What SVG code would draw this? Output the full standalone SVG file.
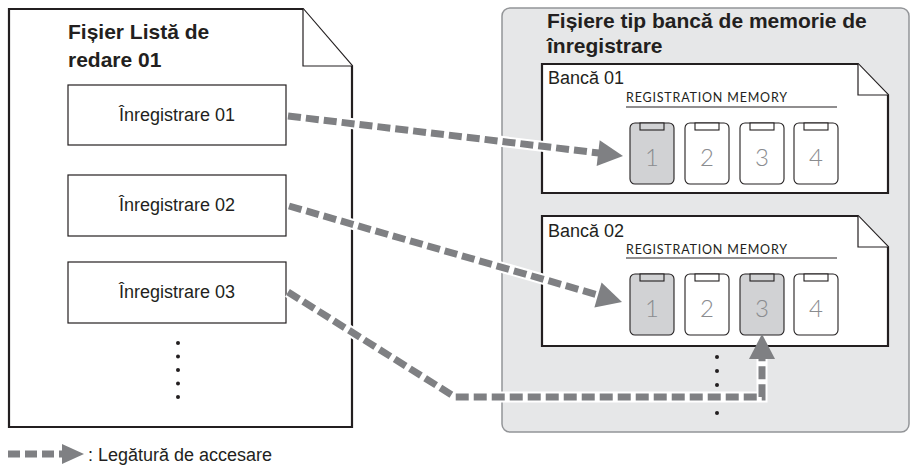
<svg xmlns="http://www.w3.org/2000/svg" xmlns:xlink="http://www.w3.org/1999/xlink" width="912" height="468" viewBox="0 0 912 468">
<style>
.t{font-family:"Liberation Sans",Arial,sans-serif;fill:#231f20}
.b{font-weight:bold;font-size:21px}
.r{font-size:18px}
.doc{fill:#fff;stroke:#231f20;stroke-width:2.2;stroke-linejoin:miter}
.fold{fill:#fff;stroke:#231f20;stroke-width:1.2}
.rec{fill:#fff;stroke:#231f20;stroke-width:1.2}
.rm{font-family:Lato,"Open Sans",sans-serif;font-weight:400;font-size:12.5px;fill:#231f20}
.btn{stroke:#231f20;stroke-width:1.1}
.on{fill:#d1d2d4}
.off{fill:#fff}
.num{font-family:Lato,Roboto,sans-serif;font-weight:300;font-size:24px;fill:#8a8c8f;text-anchor:middle}
.halo{fill:none;stroke:#fff;stroke-width:11}
.dash{fill:none;stroke:#7f8083;stroke-width:7;stroke-dasharray:13 5}
.ah{fill:#7f8083}
.dot{fill:#231f20}
</style>
<defs>
<polygon id="head" points="0,0 -25,-13 -25,13"/>
<g id="btn">
<rect class="btn" x="0" y="0" width="44" height="61" rx="5"/>
<rect x="10" y="0" width="24" height="7" stroke="#231f20" stroke-width="1.1"/>
</g>
</defs>

<g id="playlist">
<path class="doc" d="M9,9 H303 L352,66 V427 H9 Z"/>
<path class="fold" d="M303,9 V66 H352"/>
<text class="t b" x="68" y="39">Fișier Listă de</text>
<text class="t b" x="68" y="67">redare 01</text>
<g class="dot">
<circle cx="178" cy="343" r="2"/><circle cx="178" cy="356.5" r="2"/><circle cx="178" cy="370" r="2"/><circle cx="178" cy="383.5" r="2"/><circle cx="178" cy="397" r="2"/>
</g>
</g>

<g id="rec1">
<rect class="rec" x="68" y="85" width="218" height="60"/>
<text class="t r" x="177" y="121" text-anchor="middle">Înregistrare 01</text>
</g>
<g id="rec2">
<rect class="rec" x="68" y="175" width="218" height="61"/>
<text class="t r" x="177" y="211" text-anchor="middle">Înregistrare 02</text>
</g>
<g id="rec3">
<rect class="rec" x="68" y="262" width="218" height="61"/>
<text class="t r" x="177" y="298" text-anchor="middle">Înregistrare 03</text>
</g>

<g id="bankfiles">
<rect x="502" y="8" width="407" height="424" rx="8" fill="#e6e7e8" stroke="#939598" stroke-width="1.5"/>
<text class="t b" x="547" y="28">Fișiere tip bancă de memorie de</text>
<text class="t b" x="547" y="53">înregistrare</text>
<g class="dot">
<circle cx="717" cy="357" r="2"/><circle cx="717" cy="371" r="2"/><circle cx="717" cy="385" r="2"/><circle cx="717" cy="399" r="2"/><circle cx="717" cy="413" r="2"/>
</g>
</g>

<g id="bank1">
<path class="doc" d="M542,64 H858 L888,95 V193 H542 Z"/>
<path class="fold" d="M858,64 V95 H888"/>
<text class="t r" x="548" y="84">Bancă 01</text>
<text class="rm" x="626" y="102" textLength="161" lengthAdjust="spacing">REGISTRATION MEMORY</text>
<line x1="626" y1="107" x2="837" y2="107" stroke="#231f20" stroke-width="1.2"/>
<use xlink:href="#btn" x="630" y="123" class="on"/>
<use xlink:href="#btn" x="685" y="123" class="off"/>
<use xlink:href="#btn" x="740" y="123" class="off"/>
<use xlink:href="#btn" x="794" y="123" class="off"/>
<text class="num" x="652" y="166">1</text>
<text class="num" x="707" y="166">2</text>
<text class="num" x="762" y="166">3</text>
<text class="num" x="816" y="166">4</text>
</g>

<g id="bank2">
<path class="doc" d="M542,216 H858 L888,247 V346 H542 Z"/>
<path class="fold" d="M858,216 V247 H888"/>
<text class="t r" x="548" y="237">Bancă 02</text>
<text class="rm" x="626" y="254" textLength="161" lengthAdjust="spacing">REGISTRATION MEMORY</text>
<line x1="626" y1="258" x2="837" y2="258" stroke="#231f20" stroke-width="1.2"/>
<use xlink:href="#btn" x="630" y="274" class="on"/>
<use xlink:href="#btn" x="685" y="274" class="off"/>
<use xlink:href="#btn" x="740" y="274" class="on"/>
<use xlink:href="#btn" x="794" y="274" class="off"/>
<text class="num" x="652" y="317">1</text>
<text class="num" x="707" y="317">2</text>
<text class="num" x="762" y="317">3</text>
<text class="num" x="816" y="317">4</text>
</g>

<g id="connectors">
<path class="halo" d="M288,116 L599,153"/>
<path class="dash" d="M288,116 L599,153"/>
<use xlink:href="#head" class="ah" transform="translate(623,156) rotate(6.8)"/>
<path class="halo" d="M289,206 L598,295"/>
<path class="dash" d="M289,206 L598,295"/>
<use xlink:href="#head" class="ah" transform="translate(622,302) rotate(16.1)"/>
<path class="halo" d="M288,292 L455,397 H762 V358"/>
<path class="dash" d="M288,292 L455,397 H762 V358"/>
<use xlink:href="#head" class="ah" transform="translate(762,334) rotate(-90)"/>
</g>

<g id="legend">
<path class="dash" d="M8,454 H62" style="stroke-dasharray:12 5"/>
<polygon class="ah" points="84,454 62,444 62,464"/>
<text class="t r" x="88" y="461">: Legătură de accesare</text>
</g>
</svg>
